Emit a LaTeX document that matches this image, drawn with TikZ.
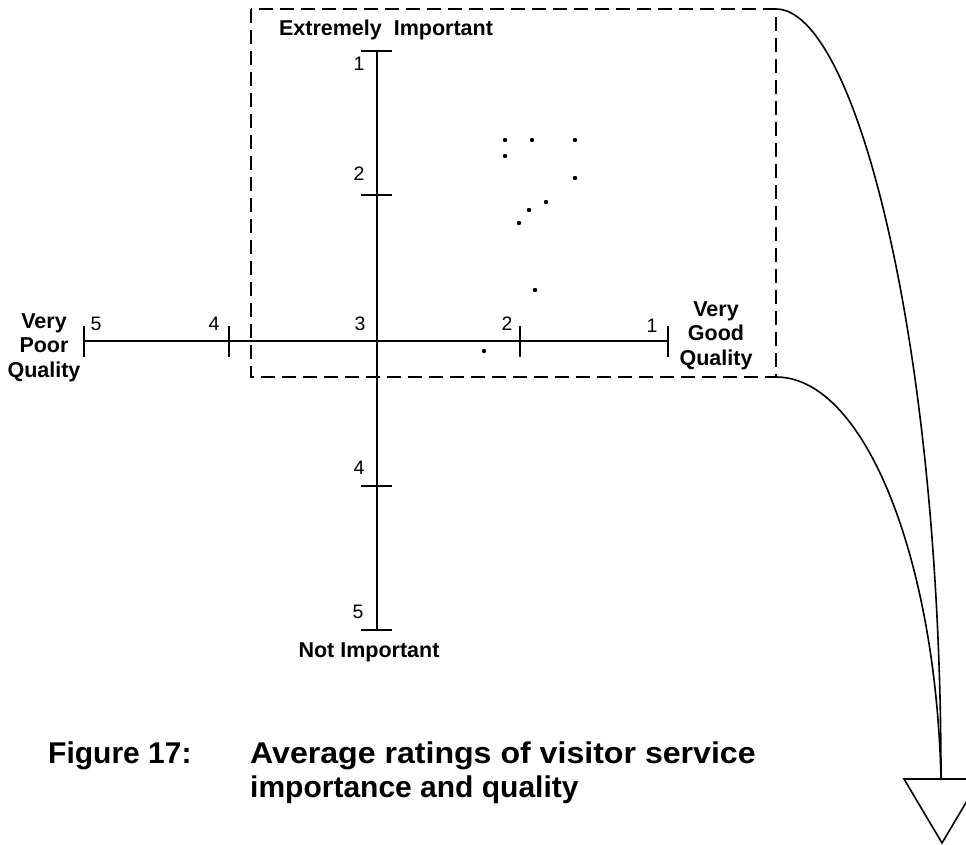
\documentclass[tikz,border=0pt]{standalone}
\usepackage{graphicx}
\usepackage{fontspec}
\setmainfont{Liberation Sans}
\begin{document}
\begin{tikzpicture}[x=1pt,y=-1pt,
  axisline/.style={line width=2pt},
  tickmark/.style={line width=2pt},
  numlbl/.style={anchor=base,inner sep=0pt,font=\fontsize{19.5}{22}\selectfont},
  boldlbl/.style={anchor=base,inner sep=0pt,align=center,font=\fontsize{21.5}{24.5}\selectfont\bfseries},
  captionfont/.style={anchor=base west,inner sep=0pt,align=left,font=\fontsize{30}{34}\selectfont\bfseries},
  dashbox/.style={line width=2.5pt,dash pattern=on 14pt off 7pt},
  flowcurve/.style={line width=1.6pt},
  datadot/.style={fill=black}]
\useasboundingbox (0,0) rectangle (966,845);
\begin{scope}
\clip (0,0) rectangle (966,845);
% axes
\coordinate (vtop) at (377,51);
\coordinate (vbot) at (377,630);
\coordinate (hleft) at (84,341);
\coordinate (hright) at (668,341);
\draw[axisline] (vtop) -- (vbot);
\draw[axisline] (hleft) -- (hright);
\foreach \y in {51,195,486,630} \draw[tickmark] (361,\y) -- (392,\y);
\foreach \x in {84,229,520,668} \draw[tickmark] (\x,326) -- (\x,357);
% tick numbers
\node[numlbl] (v1) at (359,71) {1};
\node[numlbl] (v2) at (359,181) {2};
\node[numlbl] (v3) at (360,330) {3};
\node[numlbl] (v4) at (359,474) {4};
\node[numlbl] (v5) at (358,618) {5};
\node[numlbl] (h5) at (96,330) {5};
\node[numlbl] (h4) at (214,330) {4};
\node[numlbl] (h2) at (507,330) {2};
\node[numlbl] (h1) at (652,332) {1};
% axis labels
\node[boldlbl] (ext) at (386,36) {Extremely\ \ Important};
\node[boldlbl] (notimp) at (369,657) {Not Important};
\node[boldlbl] (poor) at (44,377) {Very\\Poor\\Quality};
\node[boldlbl] (good) at (716,365) {Very\\Good\\Quality};
% data dots
\foreach \p in {(505,140),(532,140),(575,140),(505,156),(575,178),(546,202),(529,210),(519,223),(535,290),(484,351)}
  \fill[datadot] \p circle (2.2);
% dashed box
\draw[dashbox] (251,9) rectangle (776,377);
\coordinate (boxTR) at (776,9);
\coordinate (boxBR) at (776,377);
% triangle
\coordinate (triL) at (904,779);
\coordinate (triR) at (980,779);
\coordinate (triA) at (942,843);
\coordinate (stem) at (941,779);
\draw[flowcurve] (triL) -- (triR) -- (triA) -- cycle;
\draw[flowcurve] (boxTR) .. controls (855,9) and (941,340) .. (stem);
\draw[flowcurve] (boxBR) .. controls (865,377) and (936,560) .. (stem);
% caption
\node[captionfont] (fig) at (48,763) {Figure 17:};
\node[captionfont] (cap) at (250,797) {\scalebox{1.07}[1]{Average ratings of visitor service}\\importance and quality};
\end{scope}
\end{tikzpicture}
\end{document}
